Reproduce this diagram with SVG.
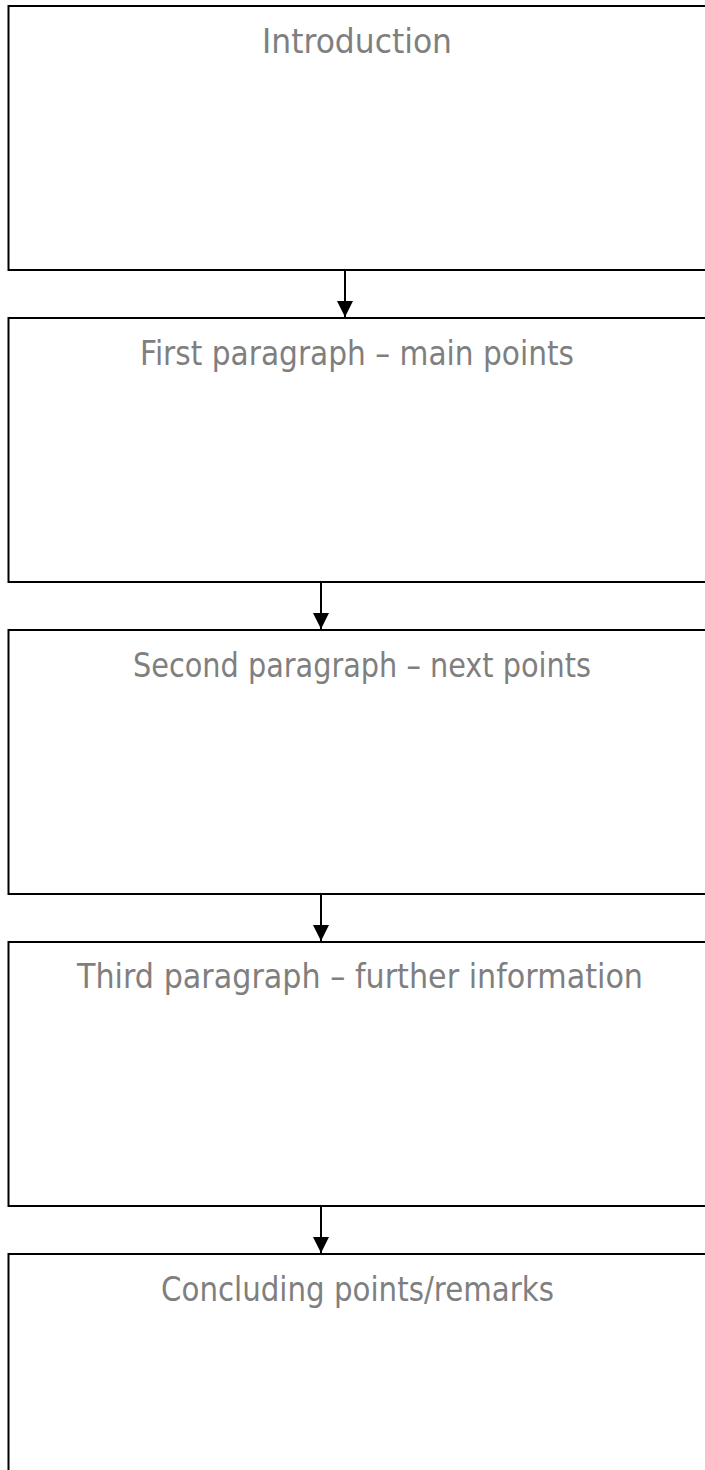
<svg xmlns="http://www.w3.org/2000/svg" width="705" height="1470" viewBox="0 0 705 1470">
<style>
.box{fill:#fff;stroke:#000;stroke-width:2}
.lbl{font-family:"Comic Sans MS","DejaVu Sans",sans-serif;font-size:33px;fill:#7f7f7f;text-anchor:middle}
.con{stroke:#000;stroke-width:2;fill:none}
</style>
<defs>
<marker id="arr" markerUnits="userSpaceOnUse" markerWidth="16" markerHeight="16" refX="16" refY="8" orient="auto">
<path d="M0,0 L16,8 L0,16 Z" fill="#000"/>
</marker>
</defs>
<rect width="705" height="1470" fill="#fff"/>
<g id="node-intro">
<rect class="box" x="8.5" y="6" width="700" height="264"/>
<text class="lbl" x="357" y="53" textLength="190" lengthAdjust="spacingAndGlyphs">Introduction</text>
</g>
<g id="node-first">
<rect class="box" x="8.5" y="318" width="700" height="264"/>
<text class="lbl" x="357" y="365" textLength="434" lengthAdjust="spacingAndGlyphs">First paragraph – main points</text>
</g>
<g id="node-second">
<rect class="box" x="8.5" y="630" width="700" height="264"/>
<text class="lbl" x="362" y="677" textLength="458" lengthAdjust="spacingAndGlyphs">Second paragraph – next points</text>
</g>
<g id="node-third">
<rect class="box" x="8.5" y="942" width="700" height="264"/>
<text class="lbl" x="360" y="988" textLength="566" lengthAdjust="spacingAndGlyphs">Third paragraph – further information</text>
</g>
<g id="node-conclusion">
<rect class="box" x="8.5" y="1254" width="700" height="264"/>
<text class="lbl" x="357.5" y="1301" textLength="393" lengthAdjust="spacingAndGlyphs">Concluding points/remarks</text>
</g>
<g id="connectors">
<line class="con" x1="345" y1="270" x2="345" y2="317" marker-end="url(#arr)"/>
<line class="con" x1="321" y1="582" x2="321" y2="629" marker-end="url(#arr)"/>
<line class="con" x1="321" y1="894" x2="321" y2="941" marker-end="url(#arr)"/>
<line class="con" x1="321" y1="1206" x2="321" y2="1253" marker-end="url(#arr)"/>
</g>
</svg>
